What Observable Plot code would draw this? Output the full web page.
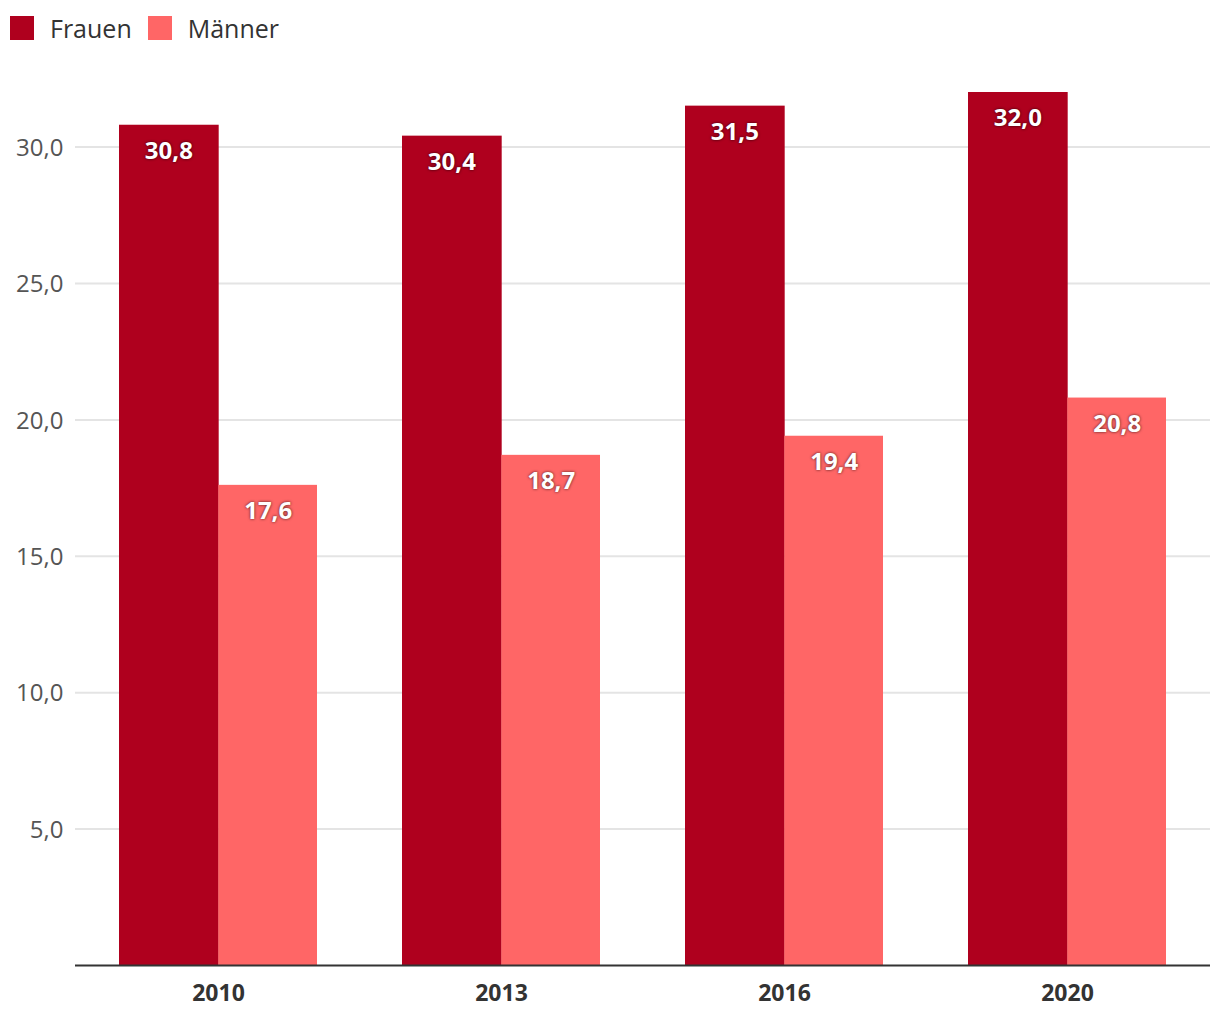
<!DOCTYPE html>
<html><head><meta charset="utf-8">
<script src="https://cdn.jsdelivr.net/npm/d3@7"></script>
<script src="https://cdn.jsdelivr.net/npm/@observablehq/plot@0.6"></script>
<style>
body{margin:0;background:#fff;font-family:"Open Sans",sans-serif;}
#legend{height:55px;display:flex;align-items:flex-start;padding-left:10px;box-sizing:border-box;}
.item{display:flex;align-items:center;margin-top:16px;margin-right:16px;}
.sw{width:24px;height:24px;margin-right:16px;}
.lab{font-size:25px;color:#333;line-height:24px;}
#chart svg g[aria-label="text"] text{text-shadow:0 0 3px rgba(0,0,0,0.75);}
</style></head><body>
<div id="legend"></div><div id="chart"></div>
<script>
const years = ["2010","2013","2016","2020"];
const frauen = [30.8,30.4,31.5,32.0];
const maenner = [17.6,18.7,19.4,20.8];
const series = ["Frauen","Männer"];
const colors = ["#AF001E","#FF6666"];
const yTicks = [5,10,15,20,25,30];

const fmt = d => d.toFixed(1).replace(".", ",");
const dataF = years.map((y,i) => ({year:y, sex:series[0], value:frauen[i]}));
const dataM = years.map((y,i) => ({year:y, sex:series[1], value:maenner[i]}));

const legend = document.getElementById("legend");
series.forEach((s,i) => {
  const it = document.createElement("div"); it.className = "item";
  const sw = document.createElement("div"); sw.className = "sw"; sw.style.background = colors[i];
  const lb = document.createElement("div"); lb.className = "lab"; lb.textContent = s;
  it.append(sw, lb); legend.append(it);
});

const W = 1220, ML = 75, MR = 10;
const padIn = 0.3, padOut = 0.15;
const step = (W - ML - MR) / (years.length - padIn + 2*padOut);
const half = step * (1 - padIn) / 2;

const chart = Plot.plot({
  width: W, height: 965,
  marginLeft: ML, marginRight: MR, marginTop: 37, marginBottom: 55,
  style: {fontFamily: '"Open Sans", sans-serif', background: "#fff"},
  x: {domain: years, paddingInner: padIn, paddingOuter: padOut, axis: null},
  y: {domain: [0, 32], axis: null},
  color: {domain: series, range: colors},
  marks: [
    Plot.gridY(yTicks, {stroke: "#e4e4e4", strokeOpacity: 1, strokeWidth: 2}),
    Plot.axisY(yTicks, {tickSize: 0, tickPadding: 12, tickFormat: fmt, fontSize: 24, fill: "#555", label: null, dy: 1}),
    Plot.barY(dataF, {x: "year", y: "value", fill: "sex", insetRight: half - 1}),
    Plot.barY(dataM, {x: "year", y: "value", fill: "sex", insetLeft: half}),
    Plot.ruleY([0], {stroke: "#333", strokeWidth: 2}),
    Plot.axisX({tickSize: 0, tickPadding: 19, fontSize: 23, fontWeight: "bold", fill: "#333", label: null}),
    Plot.text(dataF, {x: "year", y: "value", text: d => fmt(d.value), dx: -half/2, dy: 26, fill: "white", fontSize: 24, fontWeight: "bold"}),
    Plot.text(dataM, {x: "year", y: "value", text: d => fmt(d.value), dx: half/2, dy: 26, fill: "white", fontSize: 24, fontWeight: "bold"})
  ]
});
document.getElementById("chart").append(chart);
</script>
</body></html>
